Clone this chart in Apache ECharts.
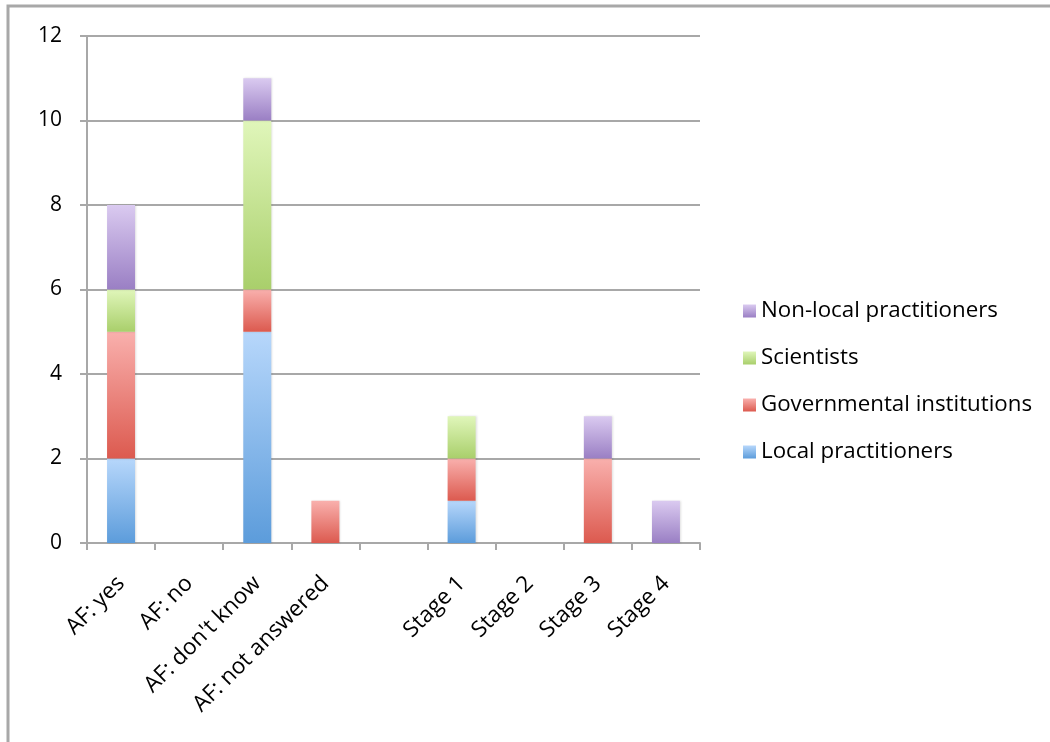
<!DOCTYPE html>
<html>
<head>
<meta charset="utf-8">
<script src="https://cdn.jsdelivr.net/npm/echarts@6/dist/echarts.min.js"></script>
<style>
  html, body { margin: 0; padding: 0; background: #fff; }
  #chart { width: 1050px; height: 742px; }
</style>
</head>
<body>
<div id="chart"></div>
<script>
// Categories along the x axis (an empty slot separates the two groups)
const categories = ['AF: yes', 'AF: no', "AF: don't know", 'AF: not answered', '', 'Stage 1', 'Stage 2', 'Stage 3', 'Stage 4'];

// Stacked counts per respondent group
const localPractitioners    = [2, 0, 5, 0, 0, 1, 0, 0, 0];
const governmental          = [3, 0, 1, 1, 0, 1, 0, 2, 0];
const scientists            = [1, 0, 4, 0, 0, 1, 0, 0, 0];
const nonLocalPractitioners = [2, 0, 1, 0, 0, 0, 0, 1, 1];

const yTicks = { min: 0, max: 12, interval: 2 };

const FONT = '"Open Sans", Lato, sans-serif';

function grad(top, bottom) {
  return new echarts.graphic.LinearGradient(0, 0, 0, 1, [
    { offset: 0, color: top },
    { offset: 1, color: bottom }
  ]);
}

const seriesDefs = [
  { name: 'Local practitioners', data: localPractitioners, top: '#b7d7fb', bottom: '#5c9cdb', icon: '#6aa7e3' },
  { name: 'Governmental institutions', data: governmental, top: '#f9b0ad', bottom: '#dc5a4f', icon: '#e8726a' },
  { name: 'Scientists', data: scientists, top: '#e0f6ba', bottom: '#a9cf6b', icon: '#bfe08f' },
  { name: 'Non-local practitioners', data: nonLocalPractitioners, top: '#dacaf0', bottom: '#9a7fc4', icon: '#a992d2' }
];

const chart = echarts.init(document.getElementById('chart'), null, { renderer: 'canvas' });

chart.setOption({
  animation: false,
  backgroundColor: '#fff',
  textStyle: { fontFamily: FONT },
  grid: { left: 87, right: 350, top: 36, bottom: 199, containLabel: false },
  legend: {
    orient: 'vertical',
    left: 738,
    top: 293,
    itemWidth: 13,
    itemHeight: 13,
    itemGap: 21,
    icon: 'rect',
    textStyle: { fontFamily: FONT, fontSize: 22.3, lineHeight: 26, color: '#000' },
    data: ['Non-local practitioners', 'Scientists', 'Governmental institutions', 'Local practitioners']
  },
  xAxis: {
    type: 'category',
    data: categories,
    boundaryGap: true,
    axisLine: { lineStyle: { color: '#a8a8a8', width: 2 } },
    axisTick: { show: true, length: 7, lineStyle: { color: '#a8a8a8', width: 2 } },
    axisLabel: {
      interval: 0,
      rotate: 45,
      margin: 37,
      fontFamily: FONT,
      fontSize: 22.5,
      color: '#000'
    },
    splitLine: { show: false }
  },
  yAxis: {
    type: 'value',
    min: yTicks.min,
    max: yTicks.max,
    interval: yTicks.interval,
    axisLine: { show: true, lineStyle: { color: '#a8a8a8', width: 2 } },
    axisTick: { show: true, length: 7, lineStyle: { color: '#a8a8a8', width: 2 } },
    axisLabel: { margin: 25, fontFamily: FONT, fontSize: 21, color: '#000' },
    splitLine: { show: true, lineStyle: { color: '#a8a8a8', width: 2 } }
  },
  series: seriesDefs.map(s => ({
    name: s.name,
    type: 'bar',
    stack: 'total',
    barWidth: 28,
    data: s.data,
    itemStyle: {
      color: grad(s.top, s.bottom),
      shadowColor: 'rgba(0,0,0,0.12)',
      shadowBlur: 2,
      shadowOffsetX: 1
    },
    emphasis: { disabled: true }
  })),
  color: seriesDefs.map(s => s.icon),
  graphic: [
    {
      type: 'polyline',
      shape: { points: [[8, 742], [8, 6], [1050, 6]] },
      style: { stroke: '#a8a8a8', lineWidth: 3, fill: null },
      silent: true
    }
  ]
});
</script>
</body>
</html>
